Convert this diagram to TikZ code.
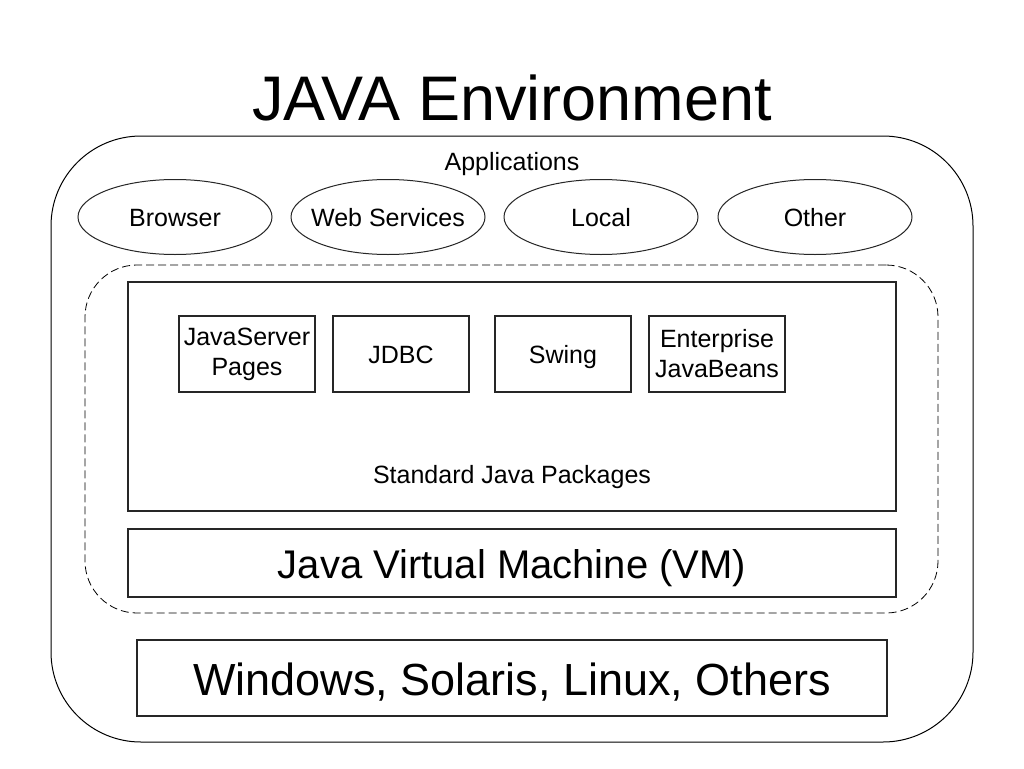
\documentclass[tikz,border=0pt]{standalone}
\usepackage{fontspec}
\setmainfont{Liberation Sans}
\usetikzlibrary{shapes.geometric}
\begin{document}
\begin{tikzpicture}[x=1pt,y=-1pt,
  lay/.style={draw=black!85,line width=1.1pt,rectangle,inner sep=0pt},
  onel/.style={text height=18pt,text depth=0pt},
  appell/.style={draw=black!85,line width=1pt,ellipse,minimum width=194pt,minimum height=75pt,inner sep=0pt},
  applabel/.style={font=\fontsize{25}{30}\selectfont,onel,inner sep=0pt},
  pkg/.style={lay,minimum width=136pt,minimum height=76pt,font=\fontsize{25}{30}\selectfont,align=center},
  small/.style={font=\fontsize{25}{30}\selectfont}]
\useasboundingbox[fill=white] (0,0) rectangle (1024,768);
\node[anchor=base,font=\fontsize{63}{70}\selectfont] (title) at (512,120) {JAVA Environment};
\node[draw=black,line width=1pt,rounded corners=90pt,minimum width=922pt,minimum height=606pt] (outer) at (512,439) {};
\node[anchor=base,small] (apps) at (512,170) {Applications};
\node[appell,label={[applabel]center:Browser}] (browser) at (175,217) {};
\node[appell,label={[applabel]center:Web Services}] (web) at (388,217) {};
\node[appell,label={[applabel]center:Local}] (local) at (601,217) {};
\node[appell,label={[applabel]center:Other}] (other) at (815,217) {};
\node[draw=black,line width=0.8pt,dash pattern=on 8pt off 4pt,rounded corners=52pt,minimum width=853pt,minimum height=348pt] (platform) at (511.5,439) {};
\node[lay,minimum width=768pt,minimum height=229pt] (std) at (512,396.5) {};
\node[anchor=base,small] (stdlabel) at (512,483) {Standard Java Packages};
\node[pkg] (jsp) at (247,354) {JavaServer\\Pages};
\node[pkg,onel] (jdbc) at (401,354) {JDBC};
\node[pkg,onel] (swing) at (563,354) {Swing};
\node[pkg] (ejb) at (717,354) {Enterprise\\JavaBeans};
\node[lay,minimum width=768pt,minimum height=68pt] (jvm) at (512,563) {};
\node[anchor=base,font=\fontsize{40}{48}\selectfont] (jvmlabel) at (512,578) {Java Virtual Machine (VM)};
\node[lay,minimum width=750pt,minimum height=76pt] (os) at (512,678) {};
\node[anchor=base,font=\fontsize{45}{54}\selectfont] (oslabel) at (512,695) {Windows, Solaris, Linux, Others};
\end{tikzpicture}
\end{document}
